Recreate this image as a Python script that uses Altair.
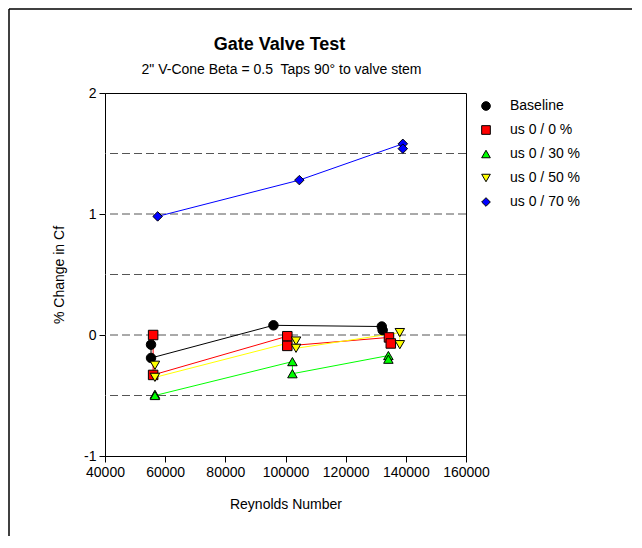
import altair as alt
import pandas as pd

series_names = ["Baseline", "us 0 / 0 %", "us 0 / 30 %", "us 0 / 50 %", "us 0 / 70 %"]
series_colors = ["#000000", "#FF0000", "#00FF00", "#FFFF00", "#0000FF"]
series_shapes = ["circle", "square", "triangle-up", "triangle-down", "diamond"]

baseline_re = [55300, 55300, 96000, 132000, 132300]
baseline_pct = [-0.08, -0.19, 0.08, 0.07, 0.04]

us0_0_re = [56000, 56000, 100600, 100600, 134400, 135000]
us0_0_pct = [0.00, -0.33, -0.01, -0.09, -0.02, -0.07]

us0_30_re = [56600, 56600, 102300, 102300, 134200, 134200]
us0_30_pct = [-0.49, -0.50, -0.22, -0.32, -0.17, -0.20]

us0_50_re = [56600, 56600, 103500, 103500, 138000, 138000]
us0_50_pct = [-0.25, -0.35, -0.05, -0.11, 0.02, -0.08]

us0_70_re = [57500, 104600, 139000, 139000]
us0_70_pct = [0.98, 1.28, 1.58, 1.54]

x_ticks = [40000, 60000, 80000, 100000, 120000, 140000, 160000]
y_ticks = [-1, 0, 1, 2]
grid_lines = [-0.5, 0, 0.5, 1, 1.5]

title_text = "Gate Valve Test"
subtitle_text = '2" V-Cone Beta = 0.5\u00a0 Taps 90° to valve stem'

all_series = [
    (series_names[0], baseline_re, baseline_pct),
    (series_names[1], us0_0_re, us0_0_pct),
    (series_names[2], us0_30_re, us0_30_pct),
    (series_names[3], us0_50_re, us0_50_pct),
    (series_names[4], us0_70_re, us0_70_pct),
]
rows = []
for name, res, vals in all_series:
    for i, (r, v) in enumerate(zip(res, vals)):
        rows.append({"series": name, "re": r, "pct": v, "order": i})
df = pd.DataFrame(rows)
grid_df = pd.DataFrame({"pct": grid_lines})
one_df = pd.DataFrame({"k": [0]})

FONT = "Liberation Sans"
W, H = 361, 363
PL, PT, PR, PB = 97, 85, 168, 80

x_enc = alt.X(
    "re:Q",
    scale=alt.Scale(domain=[40000, 160000], nice=False, zero=False),
    axis=alt.Axis(values=x_ticks, format="d", title="Reynolds Number", grid=False,
                  titlePadding=18, labelOverlap=False, labelFlush=False),
)
y_enc = alt.Y(
    "pct:Q",
    scale=alt.Scale(domain=[-1, 2], nice=False, zero=False),
    axis=alt.Axis(values=y_ticks, labelExpr="'' + datum.value", title="% Change in Cf",
                  grid=False, titlePadding=17),
)

legend = alt.Legend(
    title=None, orient="none", legendX=374, legendY=6, padding=0,
    labelFont=FONT, labelFontSize=14, labelColor="black",
    symbolSize=75, symbolStrokeColor="black", symbolStrokeWidth=1,
    rowPadding=10, labelOffset=17,
)
color_scale = alt.Scale(domain=series_names, range=series_colors)
shape_scale = alt.Scale(domain=series_names, range=series_shapes)
# line colours: same mapping, listed in reverse so this scale stays separate from the legend
line_scale = alt.Scale(domain=series_names[::-1], range=series_colors[::-1])

grid = alt.Chart(grid_df).mark_rule(color="#555555", strokeWidth=1, strokeDash=[8, 4]).encode(
    y=alt.Y("pct:Q")
)

lines = alt.Chart(df).mark_line(strokeWidth=1).encode(
    x=x_enc, y=y_enc,
    stroke=alt.Stroke("series:N", scale=line_scale, legend=None),
    order=alt.Order("order:Q"),
)

points = alt.Chart(df).mark_point(filled=True, size=90, stroke="black", strokeWidth=1, opacity=1).encode(
    x=x_enc, y=y_enc,
    color=alt.Color("series:N", scale=color_scale, legend=legend),
    shape=alt.Shape("series:N", scale=shape_scale, legend=legend),
)

title_mark = alt.Chart(one_df).mark_text(
    text=title_text, font=FONT, fontSize=18, fontWeight="bold", color="black",
    align="center", baseline="middle",
).encode(x=alt.value(W / 2 - 6), y=alt.value(-48))

subtitle_mark = alt.Chart(one_df).mark_text(
    text=subtitle_text, font=FONT, fontSize=14, color="black",
    align="center", baseline="middle",
).encode(x=alt.value(W / 2 - 4), y=alt.value(-23))

frame_top = alt.Chart(one_df).mark_rule(color="black", strokeWidth=1.5).encode(
    x=alt.value(-PL + 1), x2=alt.value(W + PR - 2), y=alt.value(-PT + 1)
)
frame_left = alt.Chart(one_df).mark_rule(color="black", strokeWidth=1.5).encode(
    x=alt.value(-PL + 1), y=alt.value(-PT + 1), y2=alt.value(H + PB)
)

chart = alt.layer(grid, lines, points, title_mark, subtitle_mark, frame_top, frame_left).properties(
    width=W, height=H,
    autosize=alt.AutoSizeParams(type="none"),
    padding={"left": PL, "top": PT, "right": PR, "bottom": PB},
).configure_view(
    stroke="black", strokeWidth=1
).configure_axis(
    domainColor="black", tickColor="black", tickSize=6, labelColor="black",
    labelFont=FONT, labelFontSize=14, titleFont=FONT, titleFontSize=14,
    titleFontWeight="normal", titleColor="black", labelPadding=3,
)

chart.save("out.html", embed_options={"renderer": "svg", "actions": False})
